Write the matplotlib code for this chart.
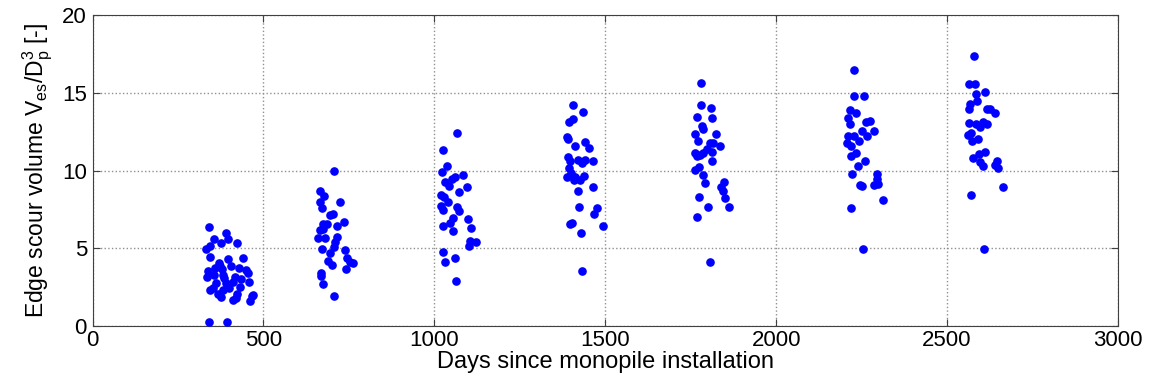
import numpy as np
import matplotlib.pyplot as plt

plt.rcParams['font.family'] = ['Liberation Sans', 'DejaVu Sans']
plt.rcParams['mathtext.fontset'] = 'custom'
plt.rcParams['mathtext.rm'] = 'Liberation Sans'
plt.rcParams['mathtext.it'] = 'Liberation Sans'

# -------------------- Data --------------------
# survey campaign 1 (~1 year)
days_1 = [341, 389, 354, 396, 376, 424, 344, 332, 345, 395, 439, 369, 406, 429, 338,
          358, 378, 456, 336, 354, 383, 416, 434, 458, 361, 391, 410, 352, 432, 344,
          383, 400, 424, 375, 466, 412, 420, 461, 342, 393, 372, 385, 366, 448, 470]
vol_1 = [6.39, 6.01, 5.58, 5.58, 5.32, 5.32, 5.17, 4.93, 4.44, 4.33, 4.38, 4.03, 3.86, 3.75, 3.54,
         3.71, 3.65, 3.43, 3.17, 3.28, 3.28, 3.17, 3.00, 2.85, 2.75, 2.78, 2.85, 2.42, 2.53, 2.32,
         2.32, 2.42, 2.06, 1.89, 1.93, 1.67, 1.78, 1.63, 0.26, 0.26, 3.86, 3.10, 2.05, 3.60, 2.00]

# survey campaign 2
days_2 = [707, 666, 678, 664, 724, 671, 695, 703, 737, 673, 685, 714, 664, 673, 661,
          680, 716, 710, 671, 705, 739, 695, 745, 688, 763, 753, 702, 741, 668, 668,
          673, 705]
vol_2 = [9.97, 8.69, 8.39, 7.98, 8.00, 7.57, 7.12, 7.18, 6.71, 6.54, 6.54, 6.44, 6.18, 6.22, 5.68,
         5.68, 5.75, 5.43, 4.95, 5.10, 4.89, 4.68, 4.40, 4.18, 4.03, 4.09, 3.93, 3.65, 3.43, 3.24,
         2.72, 1.93]

# survey campaign 3
days_3 = [1066, 1025, 1038, 1023, 1083, 1061, 1051, 1031, 1044, 1095, 1073, 1019, 1028, 1039, 1019,
          1026, 1067, 1073, 1098, 1056, 1046, 1025, 1107, 1054, 1105, 1100, 1122, 1026, 1059, 1031,
          1064]
vol_3 = [12.44, 11.33, 10.32, 9.89, 9.72, 9.61, 9.46, 9.29, 9.01, 8.97, 8.64, 8.43, 8.28, 8.00, 7.72,
         7.46, 7.66, 7.42, 6.86, 6.93, 6.61, 6.43, 6.28, 6.11, 5.47, 5.17, 5.38, 4.76, 4.40, 4.12,
         2.90]

# survey campaign 4
days_4 = [1406, 1435, 1394, 1406, 1389, 1392, 1440, 1412, 1453, 1392, 1397, 1421, 1441, 1431, 1464,
          1394, 1399, 1387, 1412, 1438, 1409, 1426, 1465, 1419, 1423, 1477, 1468, 1397, 1404, 1492,
          1428, 1433]
vol_4 = [14.24, 13.75, 13.11, 13.32, 12.18, 12.01, 11.82, 11.58, 11.43, 10.90, 10.64, 10.68, 10.68, 10.47, 10.64,
         10.19, 9.82, 9.57, 9.60, 9.64, 9.40, 9.36, 8.92, 8.71, 7.68, 7.57, 7.19, 6.54, 6.60, 6.46,
         6.01, 3.54]

# survey campaign 5
days_5 = [1780, 1780, 1810, 1768, 1812, 1784, 1785, 1764, 1824, 1771, 1805, 1816, 1836, 1797, 1813,
          1762, 1787, 1768, 1777, 1812, 1773, 1763, 1787, 1792, 1846, 1838, 1844, 1851, 1773, 1863,
          1802, 1768, 1807]
vol_5 = [15.61, 14.24, 14.01, 13.43, 13.36, 12.87, 12.66, 12.33, 12.35, 11.88, 11.80, 11.76, 11.58, 11.37, 11.22,
         11.15, 11.12, 10.94, 10.98, 10.64, 10.25, 10.04, 9.72, 9.18, 9.29, 8.97, 8.71, 8.26, 8.27, 7.68,
         7.64, 7.04, 4.12]

# survey campaign 6
days_6 = [2227, 2227, 2256, 2215, 2234, 2209, 2216, 2275, 2263, 2250, 2286, 2211, 2229, 2265, 2243,
          2208, 2218, 2219, 2234, 2259, 2240, 2223, 2296, 2294, 2246, 2250, 2287, 2299, 2312, 2218,
          2253]
vol_6 = [16.49, 14.78, 14.78, 13.90, 13.73, 13.36, 13.00, 13.21, 13.09, 12.57, 12.51, 12.23, 12.19, 12.19, 11.93,
         11.75, 11.58, 10.94, 11.11, 10.64, 10.30, 9.76, 9.78, 9.44, 9.07, 9.01, 9.05, 9.13, 8.11, 7.61,
         4.93]

# survey campaign 7
days_7 = [2579, 2565, 2582, 2585, 2611, 2587, 2568, 2564, 2616, 2626, 2639, 2564, 2585, 2606, 2616,
          2597, 2562, 2570, 2574, 2590, 2611, 2592, 2575, 2597, 2605, 2645, 2641, 2650, 2665, 2570,
          2609]
vol_7 = [17.37, 15.59, 15.59, 14.91, 15.04, 14.44, 14.27, 13.96, 13.96, 13.94, 13.73, 13.06, 13.00, 13.13, 13.00,
         12.83, 12.29, 12.40, 11.90, 12.01, 11.22, 11.07, 10.79, 10.57, 10.30, 10.63, 10.37, 10.15, 8.92, 8.43,
         4.93]

days = np.concatenate([days_1, days_2, days_3, days_4, days_5, days_6, days_7])
vol = np.concatenate([vol_1, vol_2, vol_3, vol_4, vol_5, vol_6, vol_7])

x_ticks = [0, 500, 1000, 1500, 2000, 2500, 3000]
y_ticks = [0, 5, 10, 15, 20]

# -------------------- Plot --------------------
fig = plt.figure(figsize=(11.51, 3.87), dpi=100)
ax = fig.add_axes([0.0804, 0.1576, 0.8909, 0.8036])

ax.plot(days, vol, linestyle='None', marker='o', markersize=5.2,
        markerfacecolor='#0000ff', markeredgecolor='#0000ff', zorder=3)

ax.set_xlim(0, 3000)
ax.set_ylim(0, 20)
ax.set_xticks(x_ticks)
ax.set_yticks(y_ticks)
ax.tick_params(direction='in', length=5, labelsize=16, colors='#404040',
               labelcolor='black', top=True, right=True)
ax.tick_params(axis='x', pad=3)
ax.tick_params(axis='y', pad=4)
ax.grid(True, linestyle=':', color='#909090', linewidth=1)
for sp in ax.spines.values():
    sp.set_color('#404040')

ax.set_xlabel('Days since monopile installation', fontsize=17, labelpad=0)
ax.set_ylabel(r'Edge scour volume V$_{\mathregular{es}}$/D$_{\mathregular{p}}^{\mathregular{3}}$ [-]',
              fontsize=16.5, labelpad=5)

fig.savefig('out.png', dpi=100)
